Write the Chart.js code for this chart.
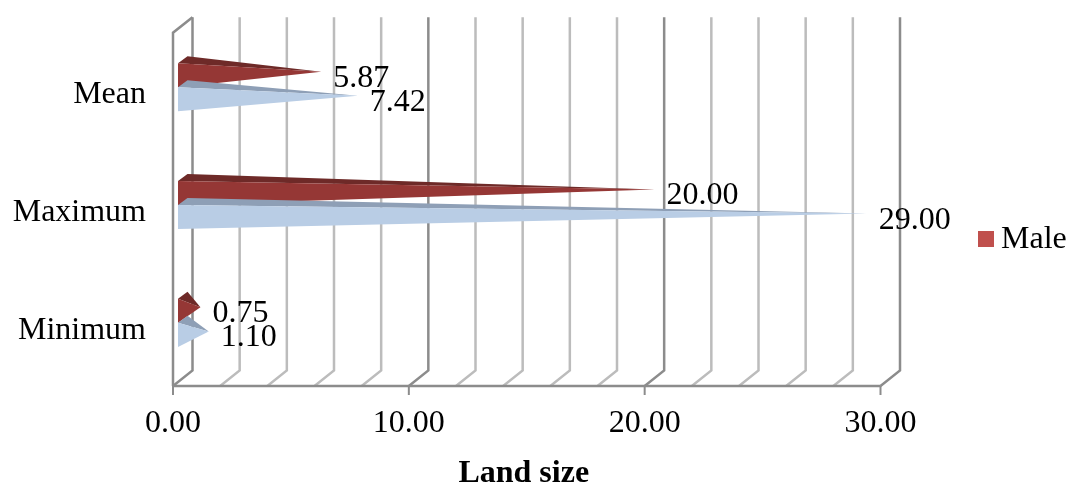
<!DOCTYPE html>
<html>
<head>
<meta charset="utf-8">
<title>Land size</title>
<script src="https://cdn.jsdelivr.net/npm/chart.js@4"></script>
<style>
  html, body { margin: 0; padding: 0; background: #fff; }
  canvas { display: block; }
</style>
</head>
<body>
<canvas id="landChart" width="1073" height="487"></canvas>
<script>
const categories = ["Mean", "Maximum", "Minimum"];
const maleValues = [5.87, 20.00, 0.75];
const otherValues = [7.42, 29.00, 1.10];
const axisMax = 30;
const axisStep = 2;
const axisTitle = "Land size";

const FONT = "'Liberation Serif', 'Times New Roman', serif";
const FONT_SIZE = 32;

// half of the wall depth, from the front plane to the middle of the box
const DEPTH_X = 9.75;
const DEPTH_Y = -7.75;
// half depth of each cone's square base
const CONE_X = 4.75;
const CONE_Y = -3.5;

const GRID_LIGHT = "#bcbcbc";
const GRID_DARK = "#8c8c8c";

function line(ctx, points, color, width) {
  ctx.strokeStyle = color;
  ctx.lineWidth = width;
  ctx.beginPath();
  points.forEach((p, i) => i ? ctx.lineTo(p[0], p[1]) : ctx.moveTo(p[0], p[1]));
  ctx.stroke();
}

function fillPoly(ctx, points, color) {
  ctx.fillStyle = color;
  ctx.beginPath();
  points.forEach((p, i) => i ? ctx.lineTo(p[0], p[1]) : ctx.moveTo(p[0], p[1]));
  ctx.closePath();
  ctx.fill();
}

// back wall, floor and tick marks, worked out from the x scale
function drawWalls(chart) {
  const ctx = chart.ctx;
  const { top, bottom } = chart.chartArea;
  const x = chart.scales.x;
  const dx = DEPTH_X * 2, dy = DEPTH_Y * 2;

  ctx.save();
  ctx.lineJoin = "miter";
  x.ticks.forEach(t => {
    const px = x.getPixelForValue(t.value);
    const major = t.value % 10 === 0;
    const color = major ? GRID_DARK : GRID_LIGHT;
    line(ctx, [[px + dx, top + dy], [px + dx, bottom + dy], [px, bottom]], color, 2.5);
    if (major) line(ctx, [[px, bottom], [px, bottom + 9]], GRID_DARK, 2);
  });
  // left wall edge and front of the floor
  const x0 = x.getPixelForValue(0);
  line(ctx, [[x0 + dx, top + dy], [x0, top], [x0, bottom]], GRID_DARK, 2.5);
  line(ctx, [[x0, bottom], [x.getPixelForValue(axisMax), bottom]], GRID_DARK, 2.5);
  ctx.restore();
}

function drawCone(ctx, bar, frontColor, topColor) {
  const h = bar.height / 2;
  const zero = bar.base + DEPTH_X;
  const cy = bar.y + DEPTH_Y;
  const tip = [bar.x + DEPTH_X, cy];
  const frontTop = [zero - CONE_X, cy - CONE_Y - h];
  const frontBottom = [zero - CONE_X, cy - CONE_Y + h];
  const backTop = [zero + CONE_X, cy + CONE_Y - h];
  fillPoly(ctx, [frontTop, backTop, tip], topColor);
  fillPoly(ctx, [frontTop, frontBottom, tip], frontColor);
}

const conePlugin = {
  id: "coneBars",
  beforeDatasetsDraw(chart) {
    drawWalls(chart);
  },
  beforeDatasetDraw() {
    return false; // cones are painted below instead of flat bars
  },
  afterDatasetsDraw(chart) {
    const ctx = chart.ctx;
    chart.data.datasets.forEach((ds, i) => {
      chart.getDatasetMeta(i).data.forEach(bar => {
        drawCone(ctx, bar, ds.backgroundColor, ds.topColor);
      });
    });
    // value labels sit past the cone tips
    ctx.save();
    ctx.font = FONT_SIZE + "px " + FONT;
    ctx.fillStyle = "#000";
    ctx.textAlign = "left";
    ctx.textBaseline = "middle";
    chart.data.datasets.forEach((ds, i) => {
      chart.getDatasetMeta(i).data.forEach((bar, j) => {
        ctx.fillText(ds.data[j].toFixed(2), bar.x + DEPTH_X + 12, bar.y + DEPTH_Y + 6.5);
      });
    });
    // legend, only the first series is listed
    const first = chart.data.datasets[0];
    ctx.fillStyle = first.legendColor;
    ctx.fillRect(978, 231, 16, 16);
    ctx.fillStyle = "#000";
    ctx.fillText(first.label, 1001, 240);
    // axis title centred a little left of the scale
    const x = chart.scales.x;
    ctx.font = "bold " + FONT_SIZE + "px " + FONT;
    ctx.textAlign = "center";
    ctx.fillText(axisTitle, (x.left + x.right) / 2 - 3, 474);
    ctx.restore();
  }
};

new Chart(document.getElementById("landChart"), {
  type: "bar",
  plugins: [conePlugin],
  data: {
    labels: categories,
    datasets: [
      {
        label: "Male",
        data: maleValues,
        backgroundColor: "#953735",
        topColor: "#6e2a28",
        legendColor: "#c0504d",
        categoryPercentage: 0.408,
        barPercentage: 1
      },
      {
        label: "",
        data: otherValues,
        backgroundColor: "#b9cde5",
        topColor: "#8e9fb6",
        categoryPercentage: 0.408,
        barPercentage: 1
      }
    ]
  },
  options: {
    indexAxis: "y",
    responsive: false,
    animation: false,
    layout: { padding: { top: 32.7, right: 192.5, bottom: 0, left: 0 } },
    plugins: {
      legend: { display: false },
      tooltip: { enabled: false }
    },
    scales: {
      x: {
        min: 0,
        max: axisMax,
        afterFit(scale) { scale.height = 101; },
        grid: { display: false, drawTicks: false },
        border: { display: false },
        ticks: {
          stepSize: axisStep,
          autoSkip: false,
          maxRotation: 0,
          padding: 18,
          color: "#000",
          font: { family: FONT, size: FONT_SIZE },
          callback: v => v % 10 === 0 ? v.toFixed(2) : ""
        }
      },
      y: {
        afterFit(scale) {
          scale.width = 173;
          scale.paddingTop = 0;
          scale.paddingBottom = 0;
        },
        grid: { display: false, drawTicks: false },
        border: { display: false },
        ticks: {
          padding: 27,
          labelOffset: 3,
          color: "#000",
          font: { family: FONT, size: FONT_SIZE }
        }
      }
    }
  }
});
</script>
</body>
</html>
